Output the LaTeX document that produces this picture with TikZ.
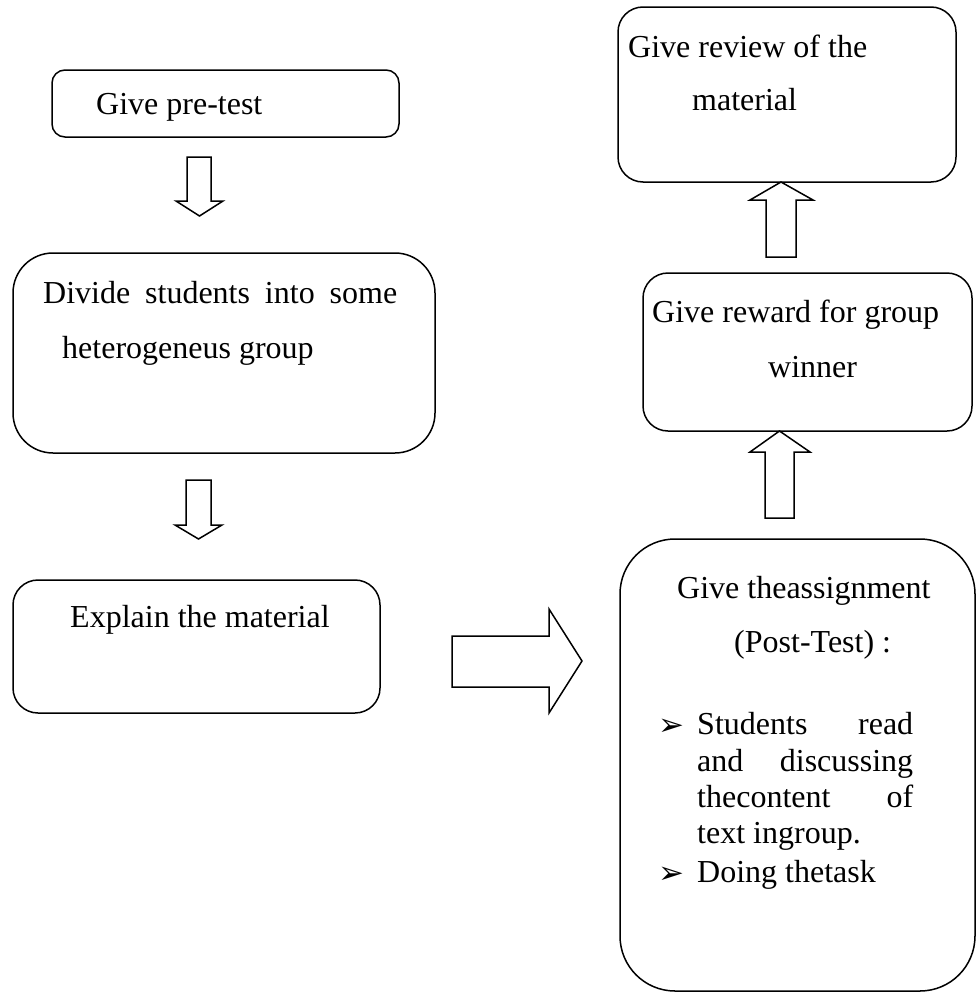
\documentclass[tikz,border=0pt]{standalone}
\usepackage{fontspec}
\setmainfont{Liberation Serif}
\newfontfamily\symfont{DejaVu Sans}
\begin{document}
\begin{tikzpicture}[x=1pt,y=-1pt,
  box/.style={draw, line width=1.5pt, inner sep=0pt, minimum width=#1},
  txt/.style={anchor=base west, inner sep=0pt, font=\fontsize{32}{38}\selectfont},
  bul/.style={anchor=base west, inner sep=0pt, font=\symfont\bfseries\fontsize{31}{36}\selectfont},
  blockarrow/.style={draw, line width=1.5pt, line join=miter, fill=white}]
\useasboundingbox (0,0) rectangle (977,993);

% boxes
\node[box=347pt, minimum height=67pt, rounded corners=13pt] (b1) at (225.5,103.5) {};
\node[box=422pt, minimum height=200pt, rounded corners=40pt] (b2) at (224,353) {};
\node[box=367pt, minimum height=133pt, rounded corners=25pt] (b3) at (196.5,646.5) {};
\node[box=338pt, minimum height=175pt, rounded corners=25pt] (b4) at (787,94.5) {};
\node[box=329pt, minimum height=158pt, rounded corners=25pt] (b5) at (807.5,352) {};
\node[box=355pt, minimum height=452pt, rounded corners=55pt] (b6) at (797.5,765) {};

% block arrows
\draw[blockarrow] (187,157) -- (211,157) -- (211,201) -- (223,201) -- (199.5,216) -- (176,201) -- (187,201) -- cycle;
\draw[blockarrow] (186,480) -- (211,480) -- (211,525) -- (222,525) -- (198.5,539) -- (175,525) -- (186,525) -- cycle;
\draw[blockarrow] (452,636) -- (549,636) -- (549,609) -- (582,661) -- (549,713) -- (549,687) -- (452,687) -- cycle;
\draw[blockarrow] (766,257) -- (766,200) -- (750,200) -- (781,182) -- (813,200) -- (796,200) -- (796,257) -- cycle;
\draw[blockarrow] (765,518) -- (765,452) -- (750,452) -- (779.5,431) -- (810,452) -- (794,452) -- (794,518) -- cycle;

% texts
\node[txt] (t1) at (96,114) {Give pre-test};
\node[txt] (t2a) at (43,303) {\makebox[354pt][s]{Divide students into some}};
\node[txt] (t2b) at (62,358) {heterogeneus group};
\node[txt] (t3) at (70,627) {Explain the material};
\node[txt] (t4a) at (628,57) {Give review of the};
\node[txt] (t4b) at (692,110) {material};
\node[txt] (t5a) at (652,322) {Give reward for group};
\node[txt] (t5b) at (768,377) {winner};
\node[txt] (t6a) at (677,598) {Give theassignment};
\node[txt] (t6b) at (734,652) {(Post-Test) :};
\node[bul] (u1) at (658,735) {➢};
\node[txt] (t6c) at (697,734) {\makebox[216pt][s]{Students read}};
\node[txt] (t6d) at (697,771) {\makebox[216pt][s]{and discussing}};
\node[txt] (t6e) at (697,807) {\makebox[216pt][s]{thecontent of}};
\node[txt] (t6f) at (697,843) {text ingroup.};
\node[bul] (u2) at (658,883) {➢};
\node[txt] (t6g) at (697,882) {Doing thetask};
\end{tikzpicture}
\end{document}
